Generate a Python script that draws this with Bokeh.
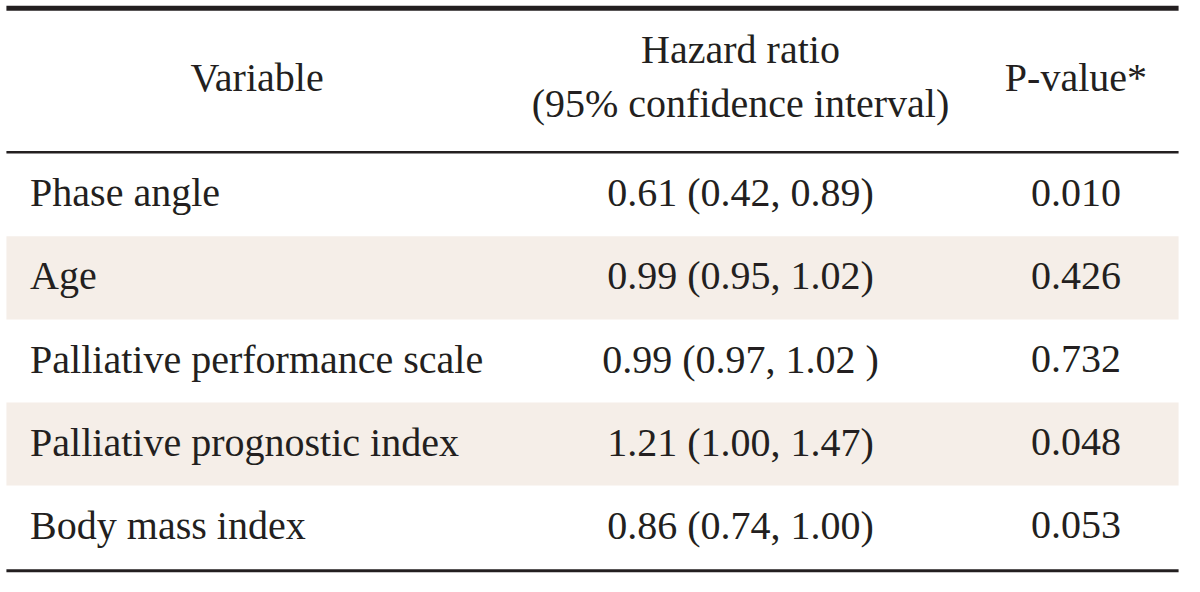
from bokeh.plotting import figure
from bokeh.models import Range1d, ColumnDataSource
from bokeh.core.properties import value
from bokeh.embed import file_html
from bokeh.resources import INLINE

# ---- data ----
header_variable = "Variable"
header_hr = ["Hazard ratio", "(95% confidence interval)"]
header_p = "P-value*"
variables = ["Phase angle", "Age", "Palliative performance scale",
             "Palliative prognostic index", "Body mass index"]
hazard_ratios = ["0.61 (0.42, 0.89)", "0.99 (0.95, 1.02)", "0.99 (0.97, 1.02 )",
                 "1.21 (1.00, 1.47)", "0.86 (0.74, 1.00)"]
p_values = ["0.010", "0.426", "0.732", "0.048", "0.053"]

# ---- layout (reference-image pixel coordinates) ----
FONT = value("Liberation Serif")
FS = "40px"
INK = "#231f20"
SHADE = "#f5eee8"
W, H = 1184, 576
REF_W, REF_H = 1200, 592
L, R = 6, 1194
body_top = 157.0
row_h = 85.4
col_var_x = 30
col_var_head_x = 260
col_hr_x = 750
col_p_x = 1090
TXT_SHIFT = -16  # compensates renderer's baseline offset

p = figure(width=W, height=H, output_backend="svg", toolbar_location=None,
           x_range=Range1d(0, REF_W), y_range=Range1d(REF_H, 0),
           min_border=0, min_border_left=0, min_border_right=0,
           min_border_top=0, min_border_bottom=0)
p.axis.visible = False
p.grid.visible = False
p.outline_line_color = None
p.background_fill_color = "white"
p.border_fill_color = "white"

n = len(variables)
tops = [body_top + i * row_h for i in range(n)]
bottoms = [t + row_h for t in tops]
centers = [t + row_h / 2 for t in tops]
baselines = [c + 14 + TXT_SHIFT for c in centers]

# shaded bands (alternate rows)
sh = [i for i in range(n) if i % 2 == 1]
p.quad(left=[L] * len(sh), right=[R] * len(sh),
       top=[tops[i] for i in sh], bottom=[bottoms[i] for i in sh],
       fill_color=SHADE, line_color=None)

# rules
p.segment(x0=[L, L, L], x1=[R, R, R], y0=[8, 156, 586], y1=[8, 156, 586],
          line_color=INK, line_width=[5, 2.5, 3])

# header
p.text(x=[col_var_head_x, col_hr_x, col_hr_x, col_p_x],
       y=[95 + TXT_SHIFT, 66.5 + TXT_SHIFT, 122 + TXT_SHIFT, 95 + TXT_SHIFT],
       text=[header_variable, header_hr[0], header_hr[1], header_p],
       text_font=FONT, text_font_size=FS, text_color=INK,
       text_align="center", text_baseline="alphabetic")

# body
src = ColumnDataSource(dict(var=variables, hr=hazard_ratios, pv=p_values,
                            y=baselines,
                            xv=[col_var_x] * n, xh=[col_hr_x] * n, xp=[col_p_x] * n))
p.text(x="xv", y="y", text="var", source=src, text_font=FONT, text_font_size=FS,
       text_color=INK, text_align="left", text_baseline="alphabetic")
p.text(x="xh", y="y", text="hr", source=src, text_font=FONT, text_font_size=FS,
       text_color=INK, text_align="center", text_baseline="alphabetic")
p.text(x="xp", y="y", text="pv", source=src, text_font=FONT, text_font_size=FS,
       text_color=INK, text_align="center", text_baseline="alphabetic")

open("out.html", "w").write(file_html(p, INLINE))
